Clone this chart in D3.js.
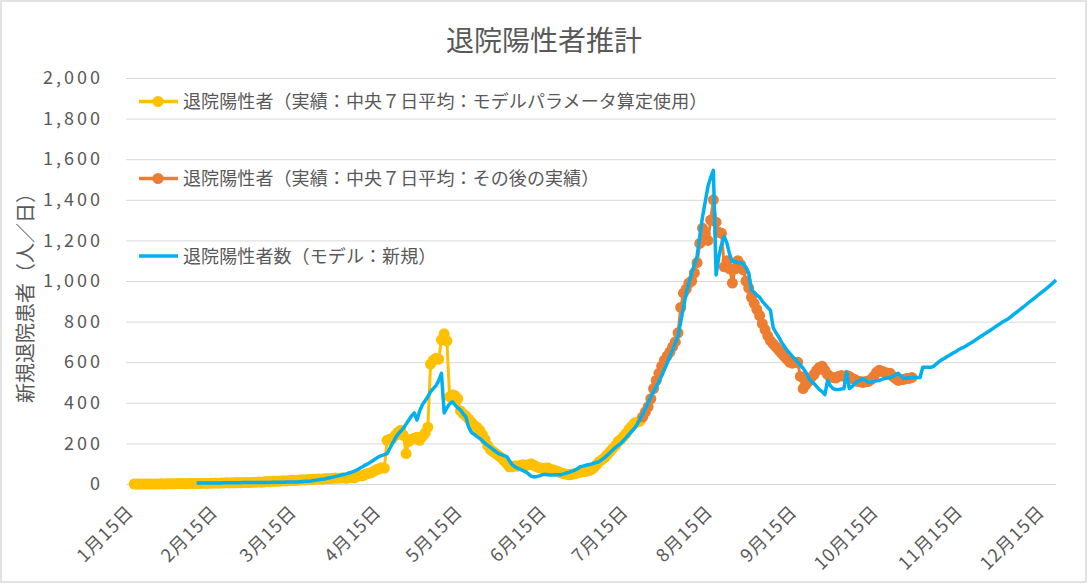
<!DOCTYPE html>
<html>
<head>
<meta charset="utf-8">
<script src="https://cdn.jsdelivr.net/npm/d3@7"></script>
<style>
  body { margin: 0; background: #fff; }
  text { font-family: "Noto Sans CJK JP", "Noto Sans", sans-serif; fill: #595959; }
</style>
</head>
<body>
<div class="viz"></div>
<script>
// daily values
const yellowStart = '2020-01-15'
const yellowVals = [
  0,0,0,0,0,0,0,0,0,0,1,0,1,1,1,1,2,
  2,2,1,2,3,2,3,3,3,4,3,4,4,5,4,5,5,6,5,6,6,7,6,7,8,7,8,9,9,
  10,9,11,12,11,13,14,13,15,16,15,17,18,17,19,20,21,20,22,23,22,24,25,24,26,27,26,28,29,28,30,
  30,28,32,35,30,38,42,40,48,52,55,62,70,75,80,78,215,220,225,240,255,265,240,150,210,220,225,230,215,235,
  250,280,590,610,620,615,710,740,705,430,440,435,420,360,345,335,320,305,290,280,265,245,220,190,170,160,150,140,130,115,100,
  85,85,90,88,92,95,90,95,100,92,85,80,78,75,80,72,70,65,60,55,50,48,45,48,50,55,58,60,62,65,
  70,80,95,110,120,130,145,160,175,190,210,220,235,250,270,285,300,305,310
]

const orangeStart = '2020-07-20'
const orangeVals = [
  330,355,380,420,470,510,545,580,610,630,650,675,
  700,745,870,940,960,990,1000,1040,1090,1185,1260,1230,1200,1300,1400,1290,1240,1235,1070,1100,1060,990,1060,1100,1080,1055,1000,965,920,890,860,
  830,790,760,730,705,690,675,660,645,630,615,600,595,598,600,530,470,490,505,525,540,560,575,580,560,540,528,525,522,530,
  535,530,535,530,520,515,505,505,500,505,505,515,530,550,560,555,550,545,545,530,520,510,515,515,520,520,525
]

const blueStart = '2020-02-07'
const blueVals = [
  5,5,5,5,5,5,5,5,5,5,6,6,6,6,6,6,6,7,7,7,7,7,7,
  8,8,8,8,8,9,9,9,9,9,10,10,10,10,10,11,12,13,14,15,17,19,21,23,25,28,31,34,37,40,43,
  47,50,54,58,63,70,78,85,93,100,108,117,126,135,140,145,150,175,200,225,245,260,275,295,315,335,350,315,360,390,
  410,430,455,470,485,510,545,350,375,395,405,390,375,365,345,330,280,255,245,235,225,215,200,190,180,170,160,150,145,140,135,
  115,95,85,78,72,66,60,50,38,35,37,40,45,48,46,44,44,45,45,46,50,55,58,62,68,75,85,88,92,95,
  98,102,106,110,120,130,142,155,168,180,190,200,215,230,245,260,275,295,320,345,370,400,430,455,480,505,535,565,595,630,660,
  695,730,800,870,940,990,1040,1080,1120,1220,1315,1390,1465,1510,1545,1030,1120,1180,1220,1185,1130,1095,1095,1090,1090,1085,1065,1040,955,945,930,
  920,900,885,870,855,770,745,725,700,680,660,645,630,615,600,585,570,550,525,505,495,480,465,455,440,510,485,470,465,465,
  468,470,550,470,480,495,505,510,520,510,500,502,505,508,510,515,520,522,525,530,538,545,530,520,522,523,524,525,525,525,575,
  575,575,575,580,592,603,612,620,628,636,644,651,660,668,673,681,690,697,706,715,724,733,741,750,759,768,777,786,795,803,
  810,820,831,841,851,862,872,883,894,905,915,926,937,947,958,969,980,992,1005
]

const yTicks = [0, 200, 400, 600, 800, 1000, 1200, 1400, 1600, 1800, 2000]
const xTicks = ['2020-01-15','2020-02-15','2020-03-15','2020-04-15','2020-05-15','2020-06-15',
                '2020-07-15','2020-08-15','2020-09-15','2020-10-15','2020-11-15','2020-12-15']
const xTickLabels = ['1月15日','2月15日','3月15日','4月15日','5月15日','6月15日',
                     '7月15日','8月15日','9月15日','10月15日','11月15日','12月15日']

const legendNames = [
  '退院陽性者（実績：中央７日平均：モデルパラメータ算定使用）',
  '退院陽性者（実績：中央７日平均：その後の実績）',
  '退院陽性者数（モデル：新規）'
]

const width = 1089
const height = 585
const parse = d3.timeParse('%Y-%m-%d')

const toSeries = (start, vals) => vals.map((v, i) => ({ date: d3.timeDay.offset(parse(start), i), value: v }))
const yellow = toSeries(yellowStart, yellowVals)
const orange = toSeries(orangeStart, orangeVals)
const blue = toSeries(blueStart, blueVals)

const svg = d3.select('.viz')
  .append('svg')
  .attr('width', width)
  .attr('height', height)

svg.append('rect')
  .attr('x', 1).attr('y', 1)
  .attr('width', width - 4).attr('height', height - 4)
  .attr('fill', '#fff')
  .attr('stroke', '#d9d9d9')
  .attr('stroke-width', 1.5)

const x = d3.scaleTime()
  .domain([parse('2020-01-12'), parse('2020-12-19')])
  .range([126, 1056])

const y = d3.scaleLinear()
  .domain([0, 2000])
  .range([484, 78])

// y axis + gridlines
const yAxis = svg.append('g')
  .attr('transform', 'translate(126,0)')
  .call(d3.axisLeft(y).tickValues(yTicks).tickSize(-930).tickPadding(23).tickFormat(d3.format(',')))
yAxis.select('.domain').remove()
yAxis.selectAll('line').attr('stroke', '#d9d9d9').attr('stroke-width', 1)
yAxis.selectAll('text')
  .attr('font-size', 18)
  .attr('fill', '#595959')
  .style('letter-spacing', '3px')
  .style('font-family', '"Noto Sans CJK JP", sans-serif')

// x axis labels
const xAxis = svg.append('g')
  .attr('transform', 'translate(0,484)')
  .call(d3.axisBottom(x).tickValues(xTicks.map(parse)).tickSize(0).tickFormat((d, i) => xTickLabels[i]))
xAxis.select('.domain').remove()
xAxis.selectAll('text')
  .attr('font-size', 18)
  .attr('fill', '#595959')
  .attr('text-anchor', 'end')
  .attr('dy', 0)
  .attr('y', 0)
  .attr('transform', 'translate(0,29) rotate(-45)')
  .style('letter-spacing', '1px')
  .style('font-family', '"Noto Sans CJK JP", sans-serif')

const line = d3.line().x(d => x(d.date)).y(d => y(d.value))

const drawMarked = (data, color) => {
  svg.append('path')
    .datum(data)
    .attr('d', line)
    .attr('fill', 'none')
    .attr('stroke', color)
    .attr('stroke-width', 3)
    .attr('stroke-linejoin', 'round')
  svg.append('g')
    .selectAll('circle')
    .data(data)
    .enter()
    .append('circle')
    .attr('cx', d => x(d.date))
    .attr('cy', d => y(d.value))
    .attr('r', 5.5)
    .attr('fill', color)
}

drawMarked(yellow, '#ffc000')
drawMarked(orange, '#ed7d31')

svg.append('path')
  .datum(blue)
  .attr('d', line)
  .attr('fill', 'none')
  .attr('stroke', '#00b0f0')
  .attr('stroke-width', 3.5)
  .attr('stroke-linejoin', 'round')

// legend
const legendColors = ['#ffc000', '#ed7d31', '#00b0f0']
const legendY = [101.5, 178.5, 256]
legendNames.forEach((name, i) => {
  const g = svg.append('g').attr('transform', `translate(0,${legendY[i]})`)
  g.append('line')
    .attr('x1', 139).attr('x2', 178)
    .attr('stroke', legendColors[i])
    .attr('stroke-width', 3.5)
  if (i < 2) {
    g.append('circle').attr('cx', 158).attr('r', 5.5).attr('fill', legendColors[i])
  }
  g.append('text')
    .text(name)
    .attr('x', 183)
    .attr('y', 6.5)
    .attr('font-size', 18)
    .style('letter-spacing', '0.1px')
})

// title
svg.append('text')
  .text('退院陽性者推計')
  .attr('x', 544)
  .attr('y', 51)
  .attr('text-anchor', 'middle')
  .attr('font-size', 28)

// y axis title
svg.append('text')
  .text('新規退院患者（人／日）')
  .attr('transform', 'translate(24,293) rotate(-90)')
  .attr('text-anchor', 'middle')
  .attr('dominant-baseline', 'central')
  .attr('font-size', 20)
</script>
</body>
</html>
